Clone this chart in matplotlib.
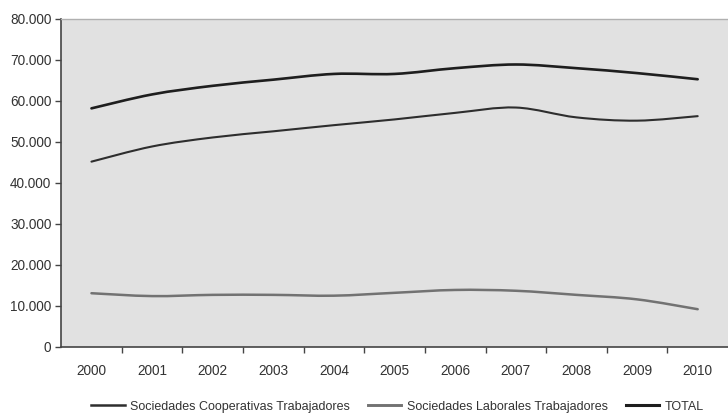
import matplotlib
matplotlib.use("Agg")
import matplotlib.pyplot as plt
from matplotlib.path import Path
from matplotlib.patches import PathPatch
from matplotlib.lines import Line2D
from matplotlib.ticker import FuncFormatter, FixedLocator
import numpy as np

plt.rcParams['font.family'] = ['Liberation Sans', 'DejaVu Sans']

years = ["2000", "2001", "2002", "2003", "2004", "2005",
         "2006", "2007", "2008", "2009", "2010"]
cooperativas = [45200, 48900, 51100, 52600, 54100, 55500,
                57100, 58400, 56000, 55200, 56300]
laborales = [13100, 12400, 12700, 12700, 12500, 13200,
             13900, 13700, 12700, 11600, 9200]
total = [58200, 61600, 63700, 65200, 66600, 66600,
         68000, 68900, 68000, 66800, 65300]
series_labels = ["Sociedades Cooperativas Trabajadores",
                 "Sociedades Laborales Trabajadores", "TOTAL"]


def smooth_path(xs, ys):
    """Cubic Bezier path through the points (Excel-style smoothed line)."""
    pts = np.column_stack([xs, ys]).astype(float)
    n = len(pts)
    verts = [pts[0]]
    codes = [Path.MOVETO]
    for i in range(n - 1):
        p0 = pts[i - 1] if i > 0 else pts[i]
        p1 = pts[i]
        p2 = pts[i + 1]
        p3 = pts[i + 2] if i + 2 < n else pts[i + 1]
        c1 = p1 + (p2 - p0) / 6.0
        c2 = p2 - (p3 - p1) / 6.0
        verts += [c1, c2, p2]
        codes += [Path.CURVE4] * 3
    return Path(verts, codes)


fig = plt.figure(figsize=(7.28, 4.13), dpi=100)
fig.patch.set_facecolor("white")
ax = fig.add_axes([0.084, 0.16, 0.916, 0.794])
ax.set_facecolor("#e1e1e1")

x = np.arange(len(years))
styles = [
    (cooperativas, "#2e2e2e", 1.5),
    (laborales, "#727272", 1.8),
    (total, "#1e1e1e", 1.9),
]
handles = []
for (vals, color, lw), lab in zip(styles, series_labels):
    patch = PathPatch(smooth_path(x, vals), fill=False, edgecolor=color,
                      linewidth=lw, capstyle="round", joinstyle="round")
    ax.add_patch(patch)
    handles.append(Line2D([], [], color=color, linewidth=lw + 0.3, label=lab))

ax.set_xlim(-0.5, len(years) - 0.5)
ax.set_ylim(0, 80000)
ax.set_yticks(np.arange(0, 80001, 10000))
ax.yaxis.set_major_formatter(
    FuncFormatter(lambda v, p: "0" if v == 0 else f"{int(v):,}".replace(",", ".")))

# category labels centred, tick marks between categories
ax.set_xticks(x)
ax.set_xticklabels(years)
ax.xaxis.set_minor_locator(FixedLocator(np.arange(0.5, len(years) - 0.5, 1)))
ax.tick_params(axis="x", which="major", length=0, pad=12,
               labelsize=9.8, labelcolor="#333333")
ax.tick_params(axis="x", which="minor", length=4, width=1, color="#444444",
               direction="out")
ax.tick_params(axis="y", length=4, width=1, color="#444444", direction="out",
               labelsize=9.8, labelcolor="#333333", pad=3)

for side in ("left", "bottom"):
    ax.spines[side].set_color("#444444")
    ax.spines[side].set_linewidth(1.2)
ax.spines["top"].set_color("#b0b0b0")
ax.spines["top"].set_linewidth(1.0)
ax.spines["right"].set_visible(False)

fig.legend(handles=handles, loc="center", bbox_to_anchor=(0.546, 0.015),
           ncol=3, frameon=False, fontsize=9, handlelength=2.7,
           handletextpad=0.45, columnspacing=1.4, labelcolor="#333333")

fig.savefig("out.png", dpi=100, facecolor="white")
